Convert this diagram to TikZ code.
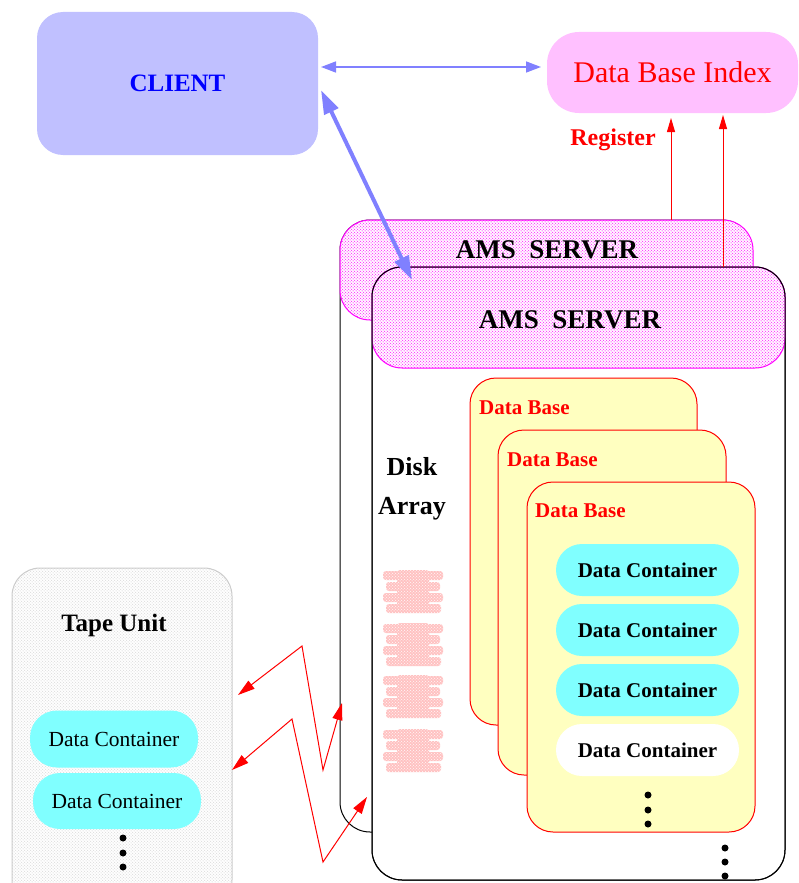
\documentclass[tikz,border=0pt]{standalone}
\usepackage{fontspec}
\setmainfont{Liberation Serif}
\usetikzlibrary{arrows.meta,patterns}

\definecolor{clientfill}{HTML}{C0C0FF}
\definecolor{linkblue}{HTML}{8080FF}
\definecolor{indexfill}{HTML}{FFC0FF}
\definecolor{dbfill}{HTML}{FFFFC0}
\definecolor{dcfill}{HTML}{80FFFF}
\definecolor{diskfill}{HTML}{FFC0C0}
\definecolor{srvpink}{HTML}{FF00FF}

% staggered stipple used for the server heads, the tape unit and the disks
\pgfdeclarepatternformonly{stipple}{\pgfpoint{-0.8pt}{-0.8pt}}{\pgfpoint{2.6pt}{2.6pt}}{\pgfpoint{3.4pt}{3.4pt}}{%
  \pgfpathcircle{\pgfpoint{0pt}{0pt}}{0.65pt}%
  \pgfpathcircle{\pgfpoint{1.7pt}{1.7pt}}{0.65pt}%
  \pgfusepath{fill}}

\tikzset{
  bx/.style={inner sep=0pt,outer sep=0pt,anchor=north west},
  frame/.style={bx,draw=black,line width=1pt,fill=white,rounded corners=30pt},
  srvhead/.style={bx,draw=srvpink,line width=1pt,preaction={fill=white},
    pattern=stipple,pattern color=srvpink,rounded corners=30pt},
  srvfont/.style={inner sep=0pt,font=\bfseries\fontsize{27}{30}\selectfont},
  dbbox/.style={bx,draw=red,line width=1pt,fill=dbfill,rounded corners=26pt},
  dbfont/.style={inner sep=0pt,anchor=west,text=red,font=\bfseries\fontsize{21}{24}\selectfont},
  container/.style={inner sep=0pt,outer sep=0pt,rounded corners=26pt,
    minimum width=183pt,minimum height=52pt,font=\bfseries\fontsize{21}{24}\selectfont},
  tapecont/.style={inner sep=0pt,outer sep=0pt,rounded corners=27pt,fill=dcfill,
    minimum width=168pt,font=\fontsize{21.5}{24}\selectfont},
  vdot/.style={fill=black},
  bluelink/.style={draw=linkblue,line width=1.5pt,
    {Triangle[length=15pt,width=11pt]}-{Triangle[length=15pt,width=11pt]}},
  bluethick/.style={draw=linkblue,line width=4pt,
    {Triangle[length=24pt,width=15pt]}-{Triangle[length=24pt,width=15pt]}},
  redlink/.style={draw=red,line width=1pt,
    {Triangle[length=17pt,width=10pt]}-{Triangle[length=17pt,width=10pt]}},
  regarrow/.style={draw=red,line width=1pt,-{Triangle[length=14pt,width=8pt]}}
}

\begin{document}
\begin{tikzpicture}[x=1pt,y=-1pt]
\useasboundingbox (0,0) rectangle (799,883);
\clip (0,0) rectangle (799,883);

% client and index
\node[bx,fill=clientfill,rounded corners=26pt,minimum width=281pt,minimum height=143pt,
  text=blue,font=\bfseries\fontsize{25}{28}\selectfont] (client) at (37,12) {CLIENT};
\node[bx,fill=indexfill,rounded corners=32pt,minimum width=251pt,minimum height=81pt,
  text=red,font=\fontsize{30}{34}\selectfont] (index) at (547,32) {Data Base Index};

% back server
\node[frame,minimum width=412pt,minimum height=612pt] (backframe) at (340,220) {};
\node[srvhead,minimum width=413pt,minimum height=100pt] (backsrv) at (340,220) {};
\node[srvfont] (backlbl) at (547,250) {AMS\ \ SERVER};

% front server
\node[frame,minimum width=413pt,minimum height=613pt] (frontframe) at (372,267) {};
\node[srvhead,minimum width=413pt,minimum height=101pt] (frontsrv) at (372,267) {};
\draw[line width=1pt,rounded corners=30pt] (frontframe.north west) rectangle (frontframe.south east);
\node[srvfont] (frontlbl) at (570,320) {AMS\ \ SERVER};

% disk array
\node[inner sep=0pt,font=\bfseries\fontsize{26}{30}\selectfont] (disklbl) at (412,467) {Disk};
\node[inner sep=0pt,font=\bfseries\fontsize{26}{30}\selectfont] (arraylbl) at (412,509) {Array};
\foreach \t in {570,623,675,729}{
  \begin{scope}[shift={(383,\t)}]
    \path[preaction={fill=diskfill},pattern=stipple,pattern color=white,rounded corners=3pt]
      (14,0) rectangle (46,43)
      (0,1) rectangle (60,10)
      (3,12) rectangle (57,21)
      (0,23) rectangle (60,32)
      (3,34) rectangle (58,43);
  \end{scope}
}

% data bases
\node[dbbox,minimum width=227pt,minimum height=347pt] (db1) at (470,378) {};
\node[dbfont] (db1lbl) at (479,408) {Data Base};
\node[dbbox,minimum width=228pt,minimum height=345pt] (db2) at (498,430) {};
\node[dbfont] (db2lbl) at (507,460) {Data Base};
\node[dbbox,minimum width=228pt,minimum height=350pt] (db3) at (527,482) {};
\node[dbfont] (db3lbl) at (535,511) {Data Base};

\node[container,fill=dcfill] (dc1) at (647.5,570) {Data Container};
\node[container,fill=dcfill] (dc2) at (647.5,630) {Data Container};
\node[container,fill=dcfill] (dc3) at (647.5,690) {Data Container};
\node[container,fill=white] (dc4) at (647.5,750) {Data Container};
\foreach \y in {795,810,824} \fill[vdot] (648,\y) circle (3.5pt);
\foreach \y in {848,862,876} \fill[vdot] (725,\y) circle (3.5pt);

% tape unit
\node[bx,draw=black!20,line width=1pt,preaction={fill=white},pattern=stipple,
  pattern color=black!16,rounded corners=28pt,minimum width=220pt,minimum height=340pt] (tape) at (12,568) {};
\node[inner sep=0pt,font=\bfseries\fontsize{25}{28}\selectfont] (tapelbl) at (114,625) {Tape Unit};
\node[tapecont,minimum height=57pt] (tc1) at (114,739) {Data Container};
\node[tapecont,minimum height=56pt] (tc2) at (117,801) {Data Container};
\foreach \y in {838,853,867} \fill[vdot] (123,\y) circle (3.5pt);

% client links
\coordinate (h1) at (321,67);
\coordinate (h2) at (541,67);
\draw[bluelink] (h1) -- (h2);
\coordinate (c1) at (321,90);
\coordinate (s1) at (412,280);
\draw[bluethick] (c1) -- (s1);

% registration with the index
\node[inner sep=0pt,text=red,font=\bfseries\fontsize{24}{27}\selectfont] (reglbl) at (613,140) {Register};
\coordinate (r1a) at (671,220);
\coordinate (r1b) at (671,118);
\coordinate (r2a) at (723,267);
\coordinate (r2b) at (723,115);
\draw[regarrow] (r1a) -- (r1b);
\draw[regarrow] (r2a) -- (r2b);

% tape transfers
\coordinate (z1a) at (238,695);
\coordinate (z1b) at (302,646);
\coordinate (z1c) at (323,770);
\coordinate (z1d) at (342,703);
\draw[redlink] (z1a) -- (z1b) -- (z1c) -- (z1d);
\coordinate (z2a) at (232,770);
\coordinate (z2b) at (292,719);
\coordinate (z2c) at (323,862);
\coordinate (z2d) at (367,797);
\draw[redlink] (z2a) -- (z2b) -- (z2c) -- (z2d);
\end{tikzpicture}
\end{document}
